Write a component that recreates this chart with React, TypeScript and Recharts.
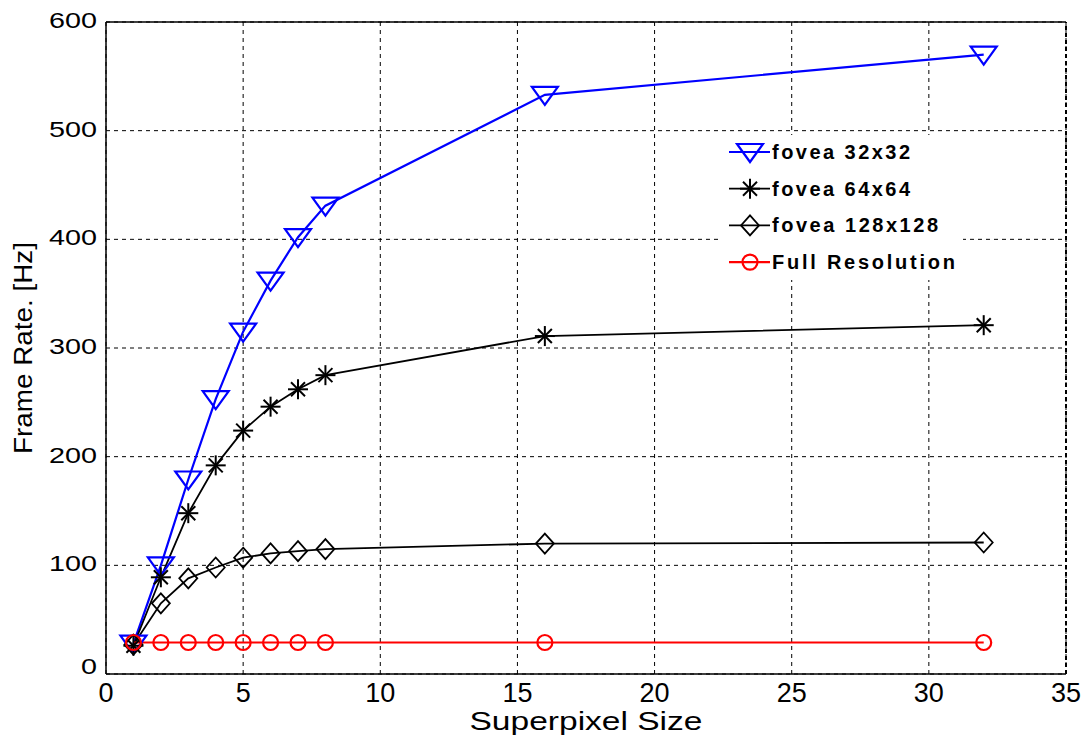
import * as React from "react";
import { LineChart, Line, XAxis, YAxis, CartesianGrid, Legend, ReferenceLine } from "recharts";

const superpixel = [1, 2, 3, 4, 5, 6, 7, 8, 16, 32];
const fovea32 = [28, 100, 179, 253, 315, 362, 402, 431, 533, 570];
const fovea64 = [26, 89, 148, 192, 224, 246, 262, 275, 311, 321];
const fovea128 = [27, 65, 88, 98, 107, 111, 113, 115, 120, 121];
const fullRes = [29, 29, 29, 29, 29, 29, 29, 29, 29, 29];

const xTicks = [0, 5, 10, 15, 20, 25, 30, 35];
const yTicks = [0, 100, 200, 300, 400, 500, 600];

const series = [
  { key: "f32", name: "fovea 32x32", color: "#0000ff", shape: "triangle", width: 2.2, textLen: 138 },
  { key: "f64", name: "fovea 64x64", color: "#000000", shape: "star", width: 1.8, textLen: 138 },
  { key: "f128", name: "fovea 128x128", color: "#000000", shape: "diamond", width: 1.8, textLen: 166 },
  { key: "full", name: "Full Resolution", color: "#ff0000", shape: "circle", width: 2.2, textLen: 183 },
];

const data = superpixel.map((x, i) => ({
  x,
  f32: fovea32[i],
  f64: fovea64[i],
  f128: fovea128[i],
  full: fullRes[i],
}));

const FONT = "'Liberation Sans', Arial, sans-serif";

function Marker({ shape, cx, cy, color }: { shape: string; cx: number; cy: number; color: string }) {
  if (shape === "triangle") {
    return <polygon points={`${cx - 13},${cy - 8} ${cx + 13},${cy - 8} ${cx},${cy + 10}`} fill="none" stroke={color} strokeWidth={2.2} />;
  }
  if (shape === "diamond") {
    return <polygon points={`${cx},${cy - 10} ${cx + 9},${cy} ${cx},${cy + 10} ${cx - 9},${cy}`} fill="none" stroke={color} strokeWidth={1.8} />;
  }
  if (shape === "circle") {
    return <circle cx={cx} cy={cy} r={7.5} fill="none" stroke={color} strokeWidth={2.2} />;
  }
  const r = 10, d = 7;
  return (
    <g stroke={color} strokeWidth={2}>
      <line x1={cx - r} y1={cy} x2={cx + r} y2={cy} />
      <line x1={cx} y1={cy - r} x2={cx} y2={cy + r} />
      <line x1={cx - d} y1={cy - d} x2={cx + d} y2={cy + d} />
      <line x1={cx - d} y1={cy + d} x2={cx + d} y2={cy - d} />
    </g>
  );
}

function YTick(props: any) {
  const { x, y, payload } = props;
  const s = String(payload.value);
  const lift = payload.value === 0 ? -6 : 0;
  return (
    <text x={x - 1} y={y + 6 + lift} textAnchor="end" fontSize={22} fontFamily={FONT} fill="#000"
      textLength={16 * s.length} lengthAdjust="spacingAndGlyphs">{s}</text>
  );
}

function XTick(props: any) {
  const { x, y, payload } = props;
  return (
    <text x={x} y={y + 20} textAnchor="middle" fontSize={27} fontFamily={FONT} fill="#000">{payload.value}</text>
  );
}

function LegendBox() {
  return (
    <svg width={241} height={145}>
      <rect x={0} y={0} width={241} height={145} fill="#fff" />
      {series.map((s, i) => {
        const cy = 17 + i * 36.7;
        return (
          <g key={s.key}>
            <line x1={7} y1={cy} x2={48} y2={cy} stroke={s.color} strokeWidth={s.width} />
            <Marker shape={s.shape} cx={28} cy={cy} color={s.color} />
            <text x={50} y={cy + 7} fontSize={20} fontWeight="bold" fontFamily={FONT} fill="#000"
              textLength={s.textLen} lengthAdjust="spacing">{s.name}</text>
          </g>
        );
      })}
    </svg>
  );
}

export default function App() {
  return (
    <div style={{ position: "absolute", left: 0, top: 0, width: 1086, height: 736, background: "#fff" }}>
      <LineChart width={1086} height={736} data={data} margin={{ top: 22, right: 20, left: 0, bottom: 0 }}>
        <CartesianGrid stroke="#000" strokeDasharray="4 4" strokeWidth={1} />
        <XAxis
          dataKey="x"
          type="number"
          domain={[0, 35]}
          ticks={xTicks}
          height={62}
          tickLine={false}
          axisLine={{ stroke: "#000", strokeWidth: 1.5 }}
          tick={<XTick />}
          label={(p: any) => {
            const vb = p.viewBox;
            return (
              <text x={vb.x + vb.width / 2} y={730} textAnchor="middle" fontSize={25} fontFamily={FONT} fill="#000"
                textLength={233} lengthAdjust="spacingAndGlyphs">Superpixel Size</text>
            );
          }}
        />
        <YAxis
          type="number"
          domain={[0, 600]}
          ticks={yTicks}
          width={106}
          tickLine={false}
          axisLine={{ stroke: "#000", strokeWidth: 1.5 }}
          tick={<YTick />}
          label={(p: any) => {
            const vb = p.viewBox;
            const cy = vb.y + vb.height / 2;
            return (
              <text x={23} y={cy} transform={`rotate(-90, 23, ${cy})`} textAnchor="middle" dominantBaseline="central"
                fontSize={26} fontFamily={FONT} fill="#000" textLength={212} lengthAdjust="spacingAndGlyphs">Frame Rate. [Hz]</text>
            );
          }}
        />
        <ReferenceLine y={600} stroke="#000" strokeWidth={1.5} />
        <ReferenceLine x={35} stroke="#000" strokeWidth={2} strokeDasharray="4 3" />
        {series.map((s) => (
          <Line
            key={s.key}
            dataKey={s.key}
            name={s.name}
            stroke={s.color}
            strokeWidth={s.width}
            isAnimationActive={false}
            dot={(p: any) => <Marker key={`${s.key}-${p.index}`} shape={s.shape} cx={p.cx} cy={p.cy} color={s.color} />}
            activeDot={false}
          />
        ))}
        <Legend
          layout="vertical"
          align="center"
          verticalAlign="middle"
          content={() => <LegendBox />}
          wrapperStyle={{ left: 722, top: 135, width: 241, height: 145 }}
        />
      </LineChart>
    </div>
  );
}
